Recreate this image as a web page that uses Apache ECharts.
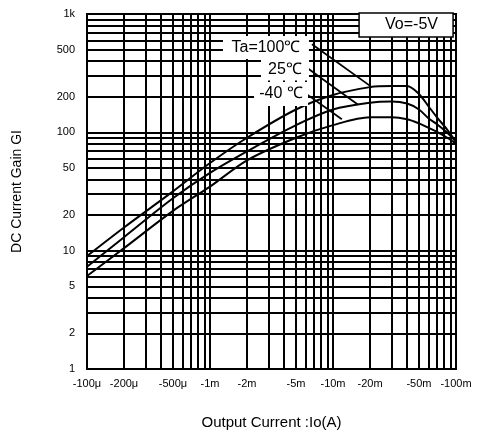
<!DOCTYPE html>
<html><head><meta charset="utf-8">
<script src="https://cdn.jsdelivr.net/npm/echarts@6/dist/echarts.min.js"></script>
<style>html,body{margin:0;padding:0;background:#fff}#c{width:483px;height:435px}</style>
</head><body><div id="c"></div>
<script>
// Output current magnitude (A) — axis shows them as negative values
const currentA = [1e-4, 2e-4, 5e-4, 1e-3, 2e-3, 5e-3, 1e-2, 2e-2, 3e-2, 4e-2, 5e-2, 6e-2, 7e-2, 8.5e-2, 1e-1];
// DC current gain GI at each current
const gain100 = [9.0, 15.7, 31.7, 55, 90, 156, 207, 241, 246, 246, 211, 165, 134, 105, 83];
const gain25  = [7.3, 13.0, 27.7, 45.4, 69, 115, 156, 178, 182, 175, 156, 131, 117, 99, 83];
const gainM40 = [6.1, 10.5, 21.7, 34.8, 58, 90, 115, 134, 134, 129, 119, 109, 101, 90, 80];
const seriesNames = ['Ta=100℃', '25℃', '-40 ℃'];

const xTickValues = [1e-4, 2e-4, 5e-4, 1e-3, 2e-3, 5e-3, 1e-2, 2e-2, 5e-2, 1e-1];
const xTickLabels = ['-100μ', '-200μ', '-500μ', '-1m', '-2m', '-5m', '-10m', '-20m', '-50m', '-100m'];
const yTickValues = [1, 2, 5, 10, 20, 50, 100, 200, 500, 1000];
const yTickLabels = ['1', '2', '5', '10', '20', '50', '100', '200', '500', '1k'];

const xDecades = [1e-4, 1e-3, 1e-2];
const yDecades = [1, 10, 100];
const multipliers = [1, 2, 3, 4, 5, 6, 7, 8, 9];

const L = Math.log10;
function gridVals(decades, top) {
  const out = [];
  decades.forEach(d => multipliers.forEach(m => out.push(L(d) + L(m))));
  out.push(L(top));
  return out;
}
function labelFor(values, labels) {
  return v => {
    const i = values.findIndex(t => Math.abs(L(t) - v) < 1e-6);
    return i >= 0 ? labels[i] : '';
  };
}
function pts(g) { return currentA.map((c, i) => [L(c), L(g[i])]); }

const FONT = 'Liberation Sans, Arial, sans-serif';
const lineStyle = { color: '#000', width: 2 };

const chart = echarts.init(document.getElementById('c'), null, { renderer: 'canvas' });
chart.setOption({
  animation: false,
  backgroundColor: '#fff',
  title: {
    text: 'Vo=-5V', right: 30, top: 13,
    padding: [4, 15, 4, 26],
    backgroundColor: '#fff', borderColor: '#000', borderWidth: 1.5,
    textStyle: { fontFamily: FONT, fontSize: 16, fontWeight: 'normal', color: '#000' }
  },
  grid: { left: 87, right: 27, top: 14, bottom: 57, show: true, borderColor: '#000', borderWidth: 2 },
  xAxis: {
    type: 'value', min: L(1e-4), max: L(1e-1),
    name: 'Output Current :Io(A)', nameLocation: 'middle', nameGap: 46,
    nameTextStyle: { fontFamily: FONT, fontSize: 15, color: '#000' },
    axisLine: { show: true, lineStyle: { color: '#000', width: 2 } },
    axisTick: { show: false, customValues: gridVals(xDecades, 1e-1) },
    axisLabel: { customValues: xTickValues.map(L), formatter: labelFor(xTickValues, xTickLabels),
      fontFamily: FONT, fontSize: 11, color: '#000', margin: 9 },
    splitLine: { show: true, lineStyle: { color: '#000', width: 2 } }
  },
  yAxis: {
    type: 'value', min: 0, max: 3,
    name: 'DC Current Gain GI', nameLocation: 'middle', nameGap: 63,
    nameTextStyle: { fontFamily: FONT, fontSize: 14, color: '#000' },
    axisLine: { show: true, lineStyle: { color: '#000', width: 2 } },
    axisTick: { show: false, customValues: gridVals(yDecades, 1000) },
    axisLabel: { customValues: yTickValues.map(L), formatter: labelFor(yTickValues, yTickLabels),
      fontFamily: FONT, fontSize: 11, color: '#000', margin: 12 },
    splitLine: { show: true, lineStyle: { color: '#000', width: 2 } }
  },
  series: [
    {
      name: seriesNames[0], type: 'line', data: pts(gain100), symbol: 'none', smooth: 0.3, lineStyle,
      markLine: {
        silent: true, symbol: ['none', 'none'], label: { show: false },
        lineStyle: { color: '#000', width: 1.8, type: 'solid' },
        data: [
          [{ coord: [L(6.75e-3), L(556)] }, { coord: [L(2.07e-2), L(241)] }],
          [{ coord: [L(6.26e-3), L(346)] }, { coord: [L(1.6e-2), L(171)] }],
          [{ coord: [L(5.6e-3), L(224)] }, { coord: [L(1.18e-2), L(129)] }]
        ]
      },
      markPoint: {
        silent: true, symbol: 'rect',
        itemStyle: { color: '#fff' },
        label: { show: true, position: 'inside', color: '#000', fontFamily: FONT, fontSize: 16 },
        data: [
          { coord: [L(2.85e-3), L(520)], symbolSize: [86, 23], value: seriesNames[0] },
          { coord: [L(4.07e-3), L(340)], symbolSize: [48, 22], value: seriesNames[1] },
          { coord: [L(3.78e-3), L(211)], symbolSize: [54, 24], value: seriesNames[2] }
        ]
      }
    },
    { name: seriesNames[1], type: 'line', data: pts(gain25), symbol: 'none', smooth: 0.3, lineStyle },
    { name: seriesNames[2], type: 'line', data: pts(gainM40), symbol: 'none', smooth: 0.3, lineStyle }
  ]
});
</script>
</body></html>
